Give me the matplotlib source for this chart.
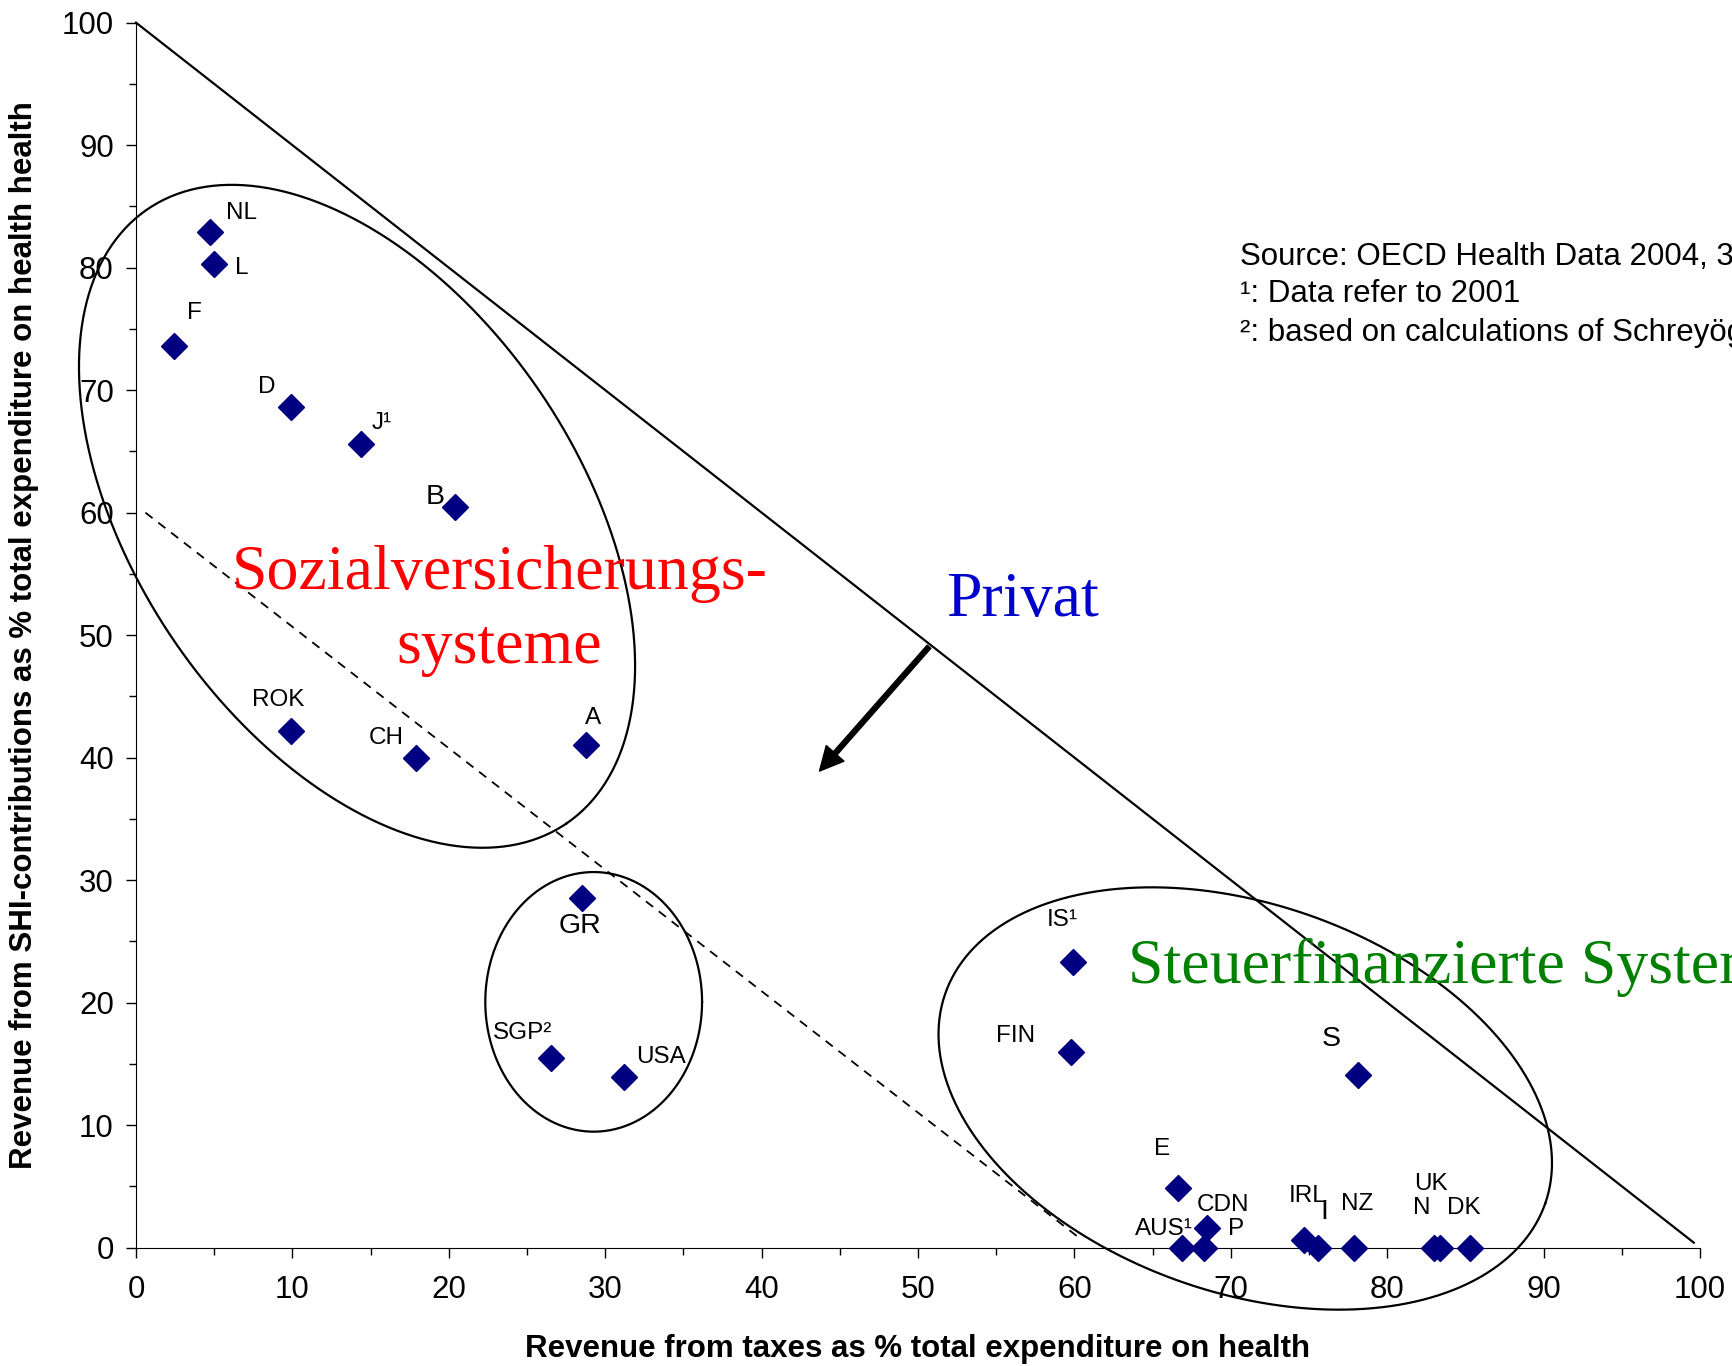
import numpy as np
import matplotlib
matplotlib.use("Agg")
import matplotlib.pyplot as plt
from matplotlib.ticker import MultipleLocator

plt.rcParams['font.family'] = ['Liberation Sans', 'DejaVu Sans']

# Länder und Werte (Steuern %, SHI-Beiträge %)
laender = ['NL', 'L', 'F', 'D', 'J¹', 'B', 'ROK', 'CH', 'A', 'GR', 'SGP²', 'USA',
           'IS¹', 'FIN', 'S', 'E', 'CDN', 'AUS¹', 'P', 'IRL', 'I', 'NZ', 'UK', 'N', 'DK']
steuern = [4.7, 5.0, 2.4, 9.9, 14.4, 20.4, 9.9, 17.9, 28.8, 28.5, 26.5, 31.2,
           59.9, 59.8, 78.1, 66.6, 68.5, 66.9, 68.3, 74.7, 75.6, 77.9, 83.4, 83.0, 85.3]
beitraege = [82.9, 80.3, 73.6, 68.6, 65.6, 60.5, 42.2, 40.0, 41.0, 28.5, 15.5, 13.9,
             23.3, 16.0, 14.1, 4.9, 1.6, 0.0, 0.0, 0.6, 0.0, 0.0, 0.0, 0.0, 0.0]

# Beschriftungs-Versatz in Pixeln (Bild), y nach unten
versatz = {
    'NL': (29, -17), 'L': (25, 4), 'F': (19, -30), 'D': (-22, -18), 'J¹': (18, -19),
    'B': (-18, -9), 'ROK': (-11, -28), 'CH': (-27, -18), 'A': (6, -25), 'GR': (-2, 25),
    'SGP²': (-25, -22), 'USA': (33, -18), 'IS¹': (-10, -38), 'FIN': (-50, -14),
    'S': (-24, -32), 'E': (-14, -35), 'CDN': (14, -21), 'AUS¹': (-17, -17),
    'P': (29, -17), 'IRL': (3, -40), 'I': (5, -32), 'NZ': (2, -39), 'UK': (-9, -57),
    'N': (-11, -36), 'DK': (-6, -36),
}
gross = ['B', 'GR', 'S', 'I']

fig = plt.figure(figsize=(17.33, 13.66), dpi=100)
ax = fig.add_axes([0.0785, 0.0867, 0.9025, 0.8967])
ax.set_xlim(0, 100)
ax.set_ylim(0, 100)

ax.spines['top'].set_visible(False)
ax.spines['right'].set_visible(False)
ax.xaxis.set_major_locator(MultipleLocator(10))
ax.xaxis.set_minor_locator(MultipleLocator(5))
ax.yaxis.set_major_locator(MultipleLocator(10))
ax.yaxis.set_minor_locator(MultipleLocator(5))
ax.tick_params(axis='both', which='major', direction='out', length=7, width=1, labelsize=22.5)
ax.tick_params(axis='both', which='minor', direction='out', length=5, width=1)
ax.tick_params(axis='x', which='major', pad=13)
ax.tick_params(axis='y', which='major', pad=9)

ax.set_xlabel('Revenue from taxes as % total expenditure on health',
              fontsize=22.5, fontweight='bold')
ax.set_ylabel('Revenue from SHI-contributions as % total expenditure on health health',
              fontsize=22.5, fontweight='bold')
ax.xaxis.set_label_coords(0.5, -0.0706)
ax.yaxis.set_label_coords(-0.0622, 0.5)

# Hilfslinien
ax.plot([0, 99.6], [100, 0.4], color='black', lw=1.6, clip_on=False)
ax.plot([0.6, 60.5], [60, 0.6], color='black', lw=1.3, ls=(0, (5, 4)))

# Ellipsen um die Gruppen (Mitte, Halbachsen in x-Einheiten, Winkel)
fig.canvas.draw()
p0 = ax.transData.transform((0, 0))
p1 = ax.transData.transform((1, 1))
k = (p1[1] - p0[1]) / (p1[0] - p0[0])
t = np.linspace(0, 2 * np.pi, 400)
for cx, cy, a, b, winkel in [(14.13, 59.7, 23.77, 14.15, -55.7),
                             (29.26, 20.06, 6.93, 8.30, 0.0),
                             (70.92, 12.17, 20.32, 12.41, -19.3)]:
    th = np.radians(winkel)
    ex = cx + a * np.cos(t) * np.cos(th) - b * np.sin(t) * np.sin(th)
    ey = cy + (a * np.cos(t) * np.sin(th) + b * np.sin(t) * np.cos(th)) / k
    ax.plot(ex, ey, color='black', lw=1.6, clip_on=False, zorder=2)

# Punkte
ax.plot(steuern, beitraege, ls='none', marker='D', ms=13.5, color='#000080',
        clip_on=False, zorder=4)

for name, xv, yv in zip(laender, steuern, beitraege):
    dx, dy = versatz[name]
    ax.annotate(name, (xv, yv), xytext=(dx * 0.8, -dy * 0.8), textcoords='offset points',
                ha='center', va='center', fontsize=20.5 if name in gross else 17.5,
                zorder=5, annotation_clip=False)

# Gruppen-Beschriftungen
ax.text(23.25, 52.0, 'Sozialversicherungs-\nsysteme', color='#FF0000', fontsize=46,
        family='Liberation Serif', ha='center', va='center', linespacing=1.36)
ax.text(56.7, 52.8, 'Privat', color='#0000CC', fontsize=46,
        family='Liberation Serif', ha='center', va='center')
ax.text(63.4, 22.9, 'Steuerfinanzierte Systeme', color='#008000', fontsize=46,
        family='Liberation Serif', ha='left', va='center', clip_on=False)

ax.annotate('', xy=(43.7, 38.9), xytext=(50.7, 49.05),
            arrowprops=dict(facecolor='black', edgecolor='black', width=3.5,
                            headwidth=17, headlength=17, shrink=0))

# Quelle
fig.text(0.7155, 0.812, 'Source: OECD Health Data 2004, 3rd edition', fontsize=22.5, va='center')
fig.text(0.7155, 0.785, '¹: Data refer to 2001', fontsize=22.5, va='center')
fig.text(0.7155, 0.756, '²: based on calculations of Schreyögg', fontsize=22.5, va='center')

fig.savefig('out.png', dpi=100)
